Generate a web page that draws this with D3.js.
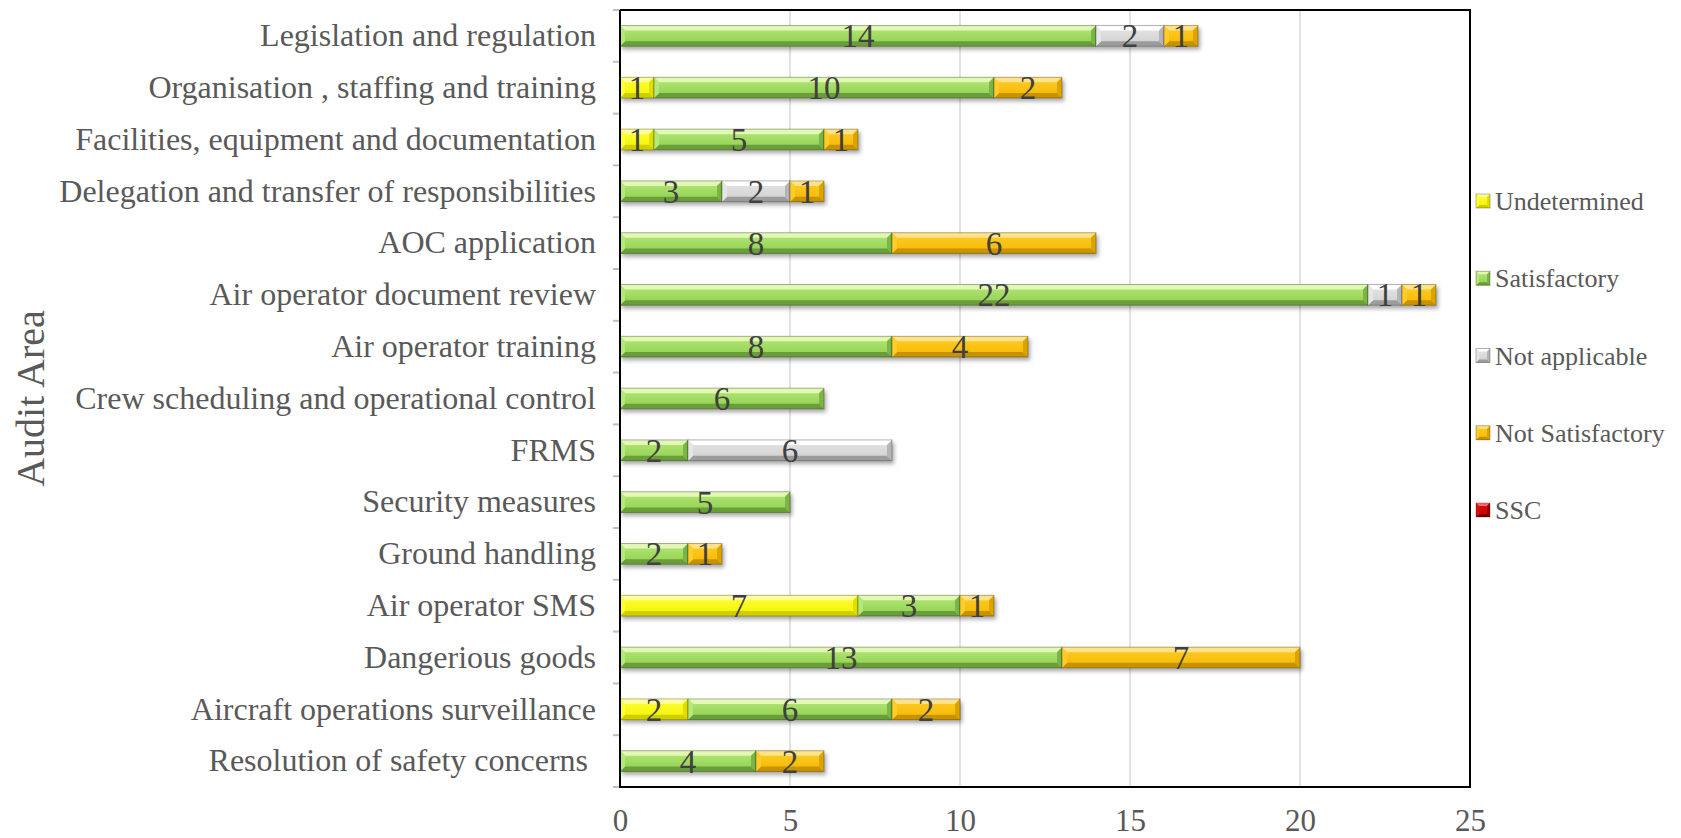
<!DOCTYPE html>
<html>
<head>
<meta charset="utf-8">
<script src="https://cdn.jsdelivr.net/npm/d3@7/dist/d3.min.js"></script>
<style>
  html, body { margin: 0; padding: 0; background: #fff; }
  svg { display: block; }
  svg text { font-family: "Liberation Serif", "Times New Roman", serif !important; white-space: pre; }
</style>
</head>
<body>
<svg id="chart" width="1681" height="838"></svg>
<script>
const categories = [
  "Legislation and regulation",
  "Organisation , staffing and training",
  "Facilities, equipment and documentation",
  "Delegation and transfer of responsibilities",
  "AOC application",
  "Air operator document review",
  "Air operator training",
  "Crew scheduling and operational control",
  "FRMS",
  "Security measures",
  "Ground handling",
  "Air operator SMS",
  "Dangerious goods",
  "Aircraft operations surveillance",
  "Resolution of safety concerns "
];
const seriesNames = ["Undetermined", "Satisfactory", "Not applicable", "Not Satisfactory", "SSC"];
const undetermined    = [0, 1, 1, 0, 0, 0, 0, 0, 0, 0, 0, 7, 0, 2, 0];
const satisfactory    = [14, 10, 5, 3, 8, 22, 8, 6, 2, 5, 2, 3, 13, 6, 4];
const notApplicable   = [2, 0, 0, 2, 0, 1, 0, 0, 6, 0, 0, 0, 0, 0, 0];
const notSatisfactory = [1, 2, 1, 1, 6, 1, 4, 0, 0, 0, 1, 1, 7, 2, 2];
const ssc             = [0, 0, 0, 0, 0, 0, 0, 0, 0, 0, 0, 0, 0, 0, 0];
const xTicks = [0, 5, 10, 15, 20, 25];
const axisTitle = "Audit Area";

const seriesValues = [undetermined, satisfactory, notApplicable, notSatisfactory, ssc];
// colour ramps: [top bevel, face top, face bottom, bottom bevel, side dark]
const palette = {
  "Undetermined":     ["#ffff9a", "#ffff3a", "#f2f200", "#cfcf00", "#e0e000"],
  "Satisfactory":     ["#e2f8b4", "#b4e878", "#8fcf4e", "#6a9e3a", "#7cb545"],
  "Not applicable":   ["#ffffff", "#e6e6e6", "#cfcfcf", "#9c9c9c", "#b5b5b5"],
  "Not Satisfactory": ["#ffe38a", "#ffcc2a", "#f5b800", "#c89200", "#dba400"],
  "SSC":              ["#ff6a6a", "#e01010", "#c00000", "#7a0000", "#990000"]
};
const SERIF = '"Liberation Serif", "Times New Roman", serif';

const table = categories.map((c, i) => {
  const row = { category: c };
  seriesNames.forEach((s, k) => row[s] = seriesValues[k][i]);
  return row;
});

const svg = d3.select("#chart");
const plot = { left: 620, right: 1470, top: 10, bottom: 787 };

const x = d3.scaleLinear().domain([0, 25]).range([plot.left, plot.right]);
const y = d3.scaleBand().domain(categories).range([plot.top, plot.bottom])
  .paddingInner(0.6).paddingOuter(0.3);

const defs = svg.append("defs");
const f = defs.append("filter").attr("id", "shadow")
  .attr("x", "-10%").attr("y", "-50%").attr("width", "130%").attr("height", "220%");
f.append("feDropShadow").attr("dx", 2).attr("dy", 3).attr("stdDeviation", 2)
  .attr("flood-color", "#000").attr("flood-opacity", 0.35);

seriesNames.forEach((s, k) => {
  const p = palette[s];
  const g = defs.append("linearGradient").attr("id", "face" + k)
    .attr("x1", 0).attr("y1", 0).attr("x2", 0).attr("y2", 1);
  g.append("stop").attr("offset", "0%").attr("stop-color", p[1]);
  g.append("stop").attr("offset", "100%").attr("stop-color", p[2]);
});

// gridlines
svg.append("g").selectAll("line").data(xTicks.filter(t => t > 0 && t < 25)).join("line")
  .attr("x1", d => x(d)).attr("x2", d => x(d))
  .attr("y1", plot.top).attr("y2", plot.bottom)
  .attr("stroke", "#d9d9d9").attr("stroke-width", 1.5);

// bevelled bar drawing
function bevel(g, x0, x1, y0, y1, k, b) {
  const p = palette[seriesNames[k]];
  b = Math.min(b, (x1 - x0) / 2, (y1 - y0) / 2);
  const poly = pts => pts.map(q => q.join(",")).join(" ");
  g.append("rect").attr("x", x0).attr("y", y0).attr("width", x1 - x0).attr("height", y1 - y0)
    .attr("fill", "url(#face" + k + ")");
  g.append("polygon").attr("points", poly([[x0, y0], [x1, y0], [x1 - b, y0 + b], [x0 + b, y0 + b]])).attr("fill", p[0]);
  g.append("polygon").attr("points", poly([[x0, y1], [x1, y1], [x1 - b, y1 - b], [x0 + b, y1 - b]])).attr("fill", p[3]);
  g.append("polygon").attr("points", poly([[x0, y0], [x0 + b, y0 + b], [x0 + b, y1 - b], [x0, y1]])).attr("fill", p[1]);
  g.append("polygon").attr("points", poly([[x1, y0], [x1 - b, y0 + b], [x1 - b, y1 - b], [x1, y1]])).attr("fill", p[4]);
  g.append("rect").attr("x", x0).attr("y", y0).attr("width", x1 - x0).attr("height", y1 - y0)
    .attr("fill", "none").attr("stroke", "rgba(0,0,0,0.28)").attr("stroke-width", 1);
}

const stack = d3.stack().keys(seriesNames)(table);
const barsG = svg.append("g");
stack.forEach((layer, k) => {
  layer.forEach(d => {
    if (d[1] - d[0] <= 0) return;
    const g = barsG.append("g").attr("filter", "url(#shadow)");
    const cat = d.data.category;
    bevel(g, x(d[0]), x(d[1]), y(cat), y(cat) + y.bandwidth(), k, 5);
  });
});

// data labels
const labG = svg.append("g");
stack.forEach(layer => {
  layer.forEach(d => {
    const v = d[1] - d[0];
    if (v <= 0) return;
    labG.append("text")
      .attr("x", (x(d[0]) + x(d[1])) / 2)
      .attr("y", y(d.data.category) + y.bandwidth() / 2)
      .attr("dy", "0.35em")
      .attr("text-anchor", "middle")
      .attr("font-size", 33)
      .attr("fill", "#404040")
      .style("font-family", SERIF)
      .text(v);
  });
});

// plot border (top, right, bottom) and left axis
svg.append("path")
  .attr("d", `M${plot.left},${plot.top}H${plot.right}V${plot.bottom}H${plot.left}`)
  .attr("fill", "none").attr("stroke", "#000").attr("stroke-width", 2);
const step = y.step();
const boundaries = d3.range(categories.length + 1).map(i => y.range()[0] + i * step);
svg.append("g").selectAll("line").data(boundaries).join("line")
  .attr("x1", plot.left - 7).attr("x2", plot.left)
  .attr("y1", d => d).attr("y2", d => d)
  .attr("stroke", "#bfbfbf").attr("stroke-width", 2);
svg.append("line").attr("x1", plot.left).attr("x2", plot.left)
  .attr("y1", plot.top).attr("y2", plot.bottom + 1)
  .attr("stroke", "#000").attr("stroke-width", 2);

// category axis labels
const yAxis = svg.append("g").attr("transform", `translate(${plot.left},0)`)
  .call(d3.axisLeft(y).tickSize(0).tickPadding(24));
yAxis.attr("font-family", null);
yAxis.select(".domain").remove();
yAxis.selectAll("text").attr("font-size", 32).attr("fill", "#595959")
  .style("font-family", SERIF).style("white-space", "pre");

// x axis labels
const xAxis = svg.append("g").attr("transform", `translate(0,${plot.bottom})`)
  .call(d3.axisBottom(x).tickValues(xTicks).tickSize(0).tickPadding(22));
xAxis.attr("font-family", null);
xAxis.select(".domain").remove();
xAxis.selectAll("text").attr("font-size", 31).attr("fill", "#595959").style("font-family", SERIF);

// axis title
svg.append("text")
  .attr("transform", `translate(44,${(plot.top + plot.bottom) / 2}) rotate(-90)`)
  .attr("text-anchor", "middle")
  .attr("font-size", 40).attr("fill", "#595959")
  .style("font-family", SERIF)
  .text(axisTitle);

// legend
const legendY = d3.scalePoint().domain(seriesNames).range([201, 510]);
const lg = svg.append("g");
seriesNames.forEach((s, k) => {
  const cy = legendY(s);
  const g = lg.append("g");
  bevel(g, 1476, 1490, cy - 7, cy + 7, k, 3);
  lg.append("text").attr("x", 1495).attr("y", cy).attr("dy", "0.35em")
    .attr("font-size", 26).attr("fill", "#595959")
    .style("font-family", SERIF)
    .text(s);
});
</script>
</body>
</html>
